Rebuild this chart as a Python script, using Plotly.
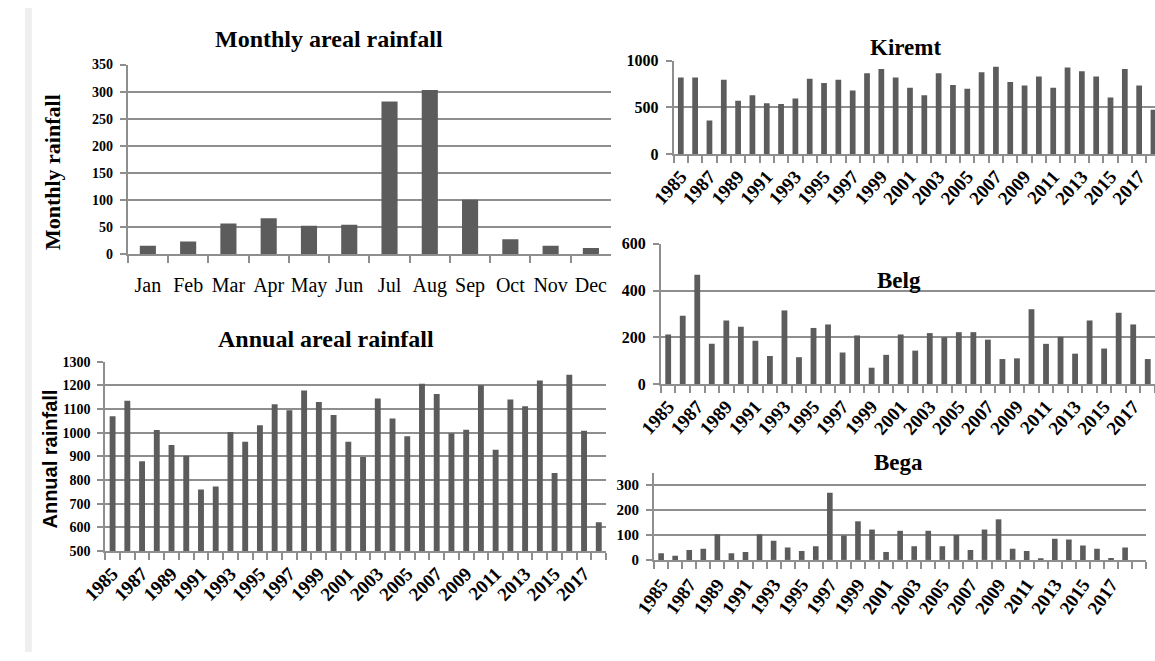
import plotly.graph_objects as go

# ---- data -------------------------------------------------------------
months = ["Jan", "Feb", "Mar", "Apr", "May", "Jun",
          "Jul", "Aug", "Sep", "Oct", "Nov", "Dec"]
monthly_rain = [16, 24, 57, 67, 53, 55, 282, 303, 101, 28, 16, 12]

years = [1985, 1986, 1987, 1988, 1989, 1990, 1991, 1992, 1993, 1994,
         1995, 1996, 1997, 1998, 1999, 2000, 2001, 2002, 2003, 2004,
         2005, 2006, 2007, 2008, 2009, 2010, 2011, 2012, 2013, 2014,
         2015, 2016, 2017, 2018]

annual_rain = [1070, 1135, 880, 1012, 948, 903, 760, 773, 1003, 962,
               1032, 1120, 1095, 1178, 1130, 1075, 962, 897, 1145, 1060,
               985, 1207, 1163, 998, 1013, 1200, 928, 1140, 1112, 1220,
               830, 1245, 1008, 622]

kiremt_rain = [820, 820, 360, 795, 570, 630, 545, 535, 595, 805,
               760, 795, 680, 865, 910, 820, 710, 630, 865, 740,
               700, 875, 935, 770, 735, 830, 710, 925, 885, 830,
               605, 910, 735, 475]

belg_rain = [212, 292, 468, 172, 272, 245, 185, 120, 315, 115,
             240, 255, 135, 208, 70, 125, 212, 143, 218, 200,
             222, 222, 190, 107, 110, 320, 172, 202, 130, 272,
             152, 305, 255, 107]

bega_rain = [27, 17, 40, 45, 103, 27, 32, 103, 77, 50,
             36, 55, 270, 98, 155, 122, 32, 117, 55, 117,
             55, 100, 40, 122, 163, 45, 36, 7, 85, 82,
             58, 45, 8, 50]

year_ticks = years[::2]
year_labels = [str(y) for y in year_ticks]

# ---- styling ----------------------------------------------------------
W, H = 1155, 661
BAR = "#5c5c5c"
GRID = "#8e8e8e"
SERIF = "Liberation Serif"
SANS = "Liberation Sans"


def xdom(x0, x1):
    return [x0 / W, min(x1 / W, 1.0)]


def ydom(top, bottom):
    return [1 - bottom / H, 1 - top / H]


def value_axis(top, bottom, rng, dtick, size, tickvals=None):
    ax = dict(
        domain=ydom(top, bottom), range=rng, dtick=dtick,
        showgrid=True, gridcolor=GRID, gridwidth=2,
        showline=True, linecolor=GRID, linewidth=2,
        ticks="outside", ticklen=6, tickcolor=GRID, tickwidth=2,
        zeroline=False, fixedrange=True,
        tickfont=dict(family=SERIF, size=size, color="black", weight="bold"),
        ticklabelstandoff=4,
    )
    if tickvals is not None:
        ax["tickmode"] = "array"
        ax["tickvals"] = tickvals
    return ax


def year_axis(x0, x1, rng, size, angle, standoff):
    return dict(
        domain=xdom(x0, x1), range=rng,
        tickmode="array", tickvals=year_ticks, ticktext=year_labels,
        ticks="", tickangle=angle,
        tickfont=dict(family=SERIF, size=size, color="black", weight="bold"),
        ticklabelstandoff=standoff,
        showline=True, linecolor=GRID, linewidth=2,
        showgrid=False, zeroline=False, fixedrange=True,
        minor=dict(tick0=1984.5, dtick=1, ticks="outside", ticklen=7,
                   tickcolor=GRID, tickwidth=2, showgrid=False),
    )


fig = go.Figure()

fig.add_trace(go.Bar(x=months, y=monthly_rain, width=0.4,
                     marker=dict(color=BAR, line=dict(width=0)),
                     xaxis="x", yaxis="y"))
fig.add_trace(go.Bar(x=years, y=annual_rain, width=0.4,
                     marker=dict(color=BAR, line=dict(width=0)),
                     xaxis="x2", yaxis="y2"))
fig.add_trace(go.Bar(x=years, y=kiremt_rain, width=0.4,
                     marker=dict(color=BAR, line=dict(width=0)),
                     xaxis="x3", yaxis="y3"))
fig.add_trace(go.Bar(x=years, y=belg_rain, width=0.4,
                     marker=dict(color=BAR, line=dict(width=0)),
                     xaxis="x4", yaxis="y4"))
fig.add_trace(go.Bar(x=years, y=bega_rain, width=0.4,
                     marker=dict(color=BAR, line=dict(width=0)),
                     xaxis="x5", yaxis="y5"))

# kiremt axis runs past the right edge of the page
kiremt_step = 14.64
kiremt_end = 1984.5 + (W - 663) / kiremt_step

fig.update_layout(
    width=W, height=H,
    margin=dict(l=0, r=0, t=0, b=0),
    paper_bgcolor="white", plot_bgcolor="white",
    showlegend=False,
    xaxis=dict(
        domain=xdom(105, 599), anchor="y", type="category",
        tickson="boundaries", ticks="outside", ticklen=7,
        tickcolor=GRID, tickwidth=2, tickangle=0,
        showline=True, linecolor=GRID, linewidth=2,
        showgrid=False, fixedrange=True,
        tickfont=dict(family=SERIF, size=20, color="black"),
        ticklabelstandoff=12,
    ),
    yaxis=dict(anchor="x", **value_axis(58, 253, [0, 350], 50, 14)),
    xaxis2=dict(anchor="y2", **year_axis(82, 594, [1984.5, 2018.5], 19, -45, 2)),
    yaxis2=dict(anchor="x2", **value_axis(363, 557.5, [500, 1300], 100, 14)),
    xaxis3=dict(anchor="y3", **year_axis(663, W, [1984.5, kiremt_end], 19, -48, 2)),
    yaxis3=dict(anchor="x3", **value_axis(54, 150, [0, 1000], 500, 16)),
    xaxis4=dict(anchor="y4", **year_axis(650, W, [1984.5, 2018.5], 19, -48, 2)),
    yaxis4=dict(anchor="x4", **value_axis(242, 386, [0, 600], 200, 16)),
    xaxis5=dict(anchor="y5", **year_axis(643, 1146, [1984.5, 2019.5], 19, -55, 4)),
    yaxis5=dict(anchor="x5", **value_axis(477, 566.5, [0, 350], 100, 15,
                                          tickvals=[0, 100, 200, 300])),
)

# light frame strip along the left edge
fig.add_shape(type="rect", xref="paper", yref="paper",
              x0=0, x1=7 / W, y0=0, y1=1,
              fillcolor="#efefef", line=dict(width=0), layer="below")


def label(text, x, y, size, family=SERIF, angle=0):
    fig.add_annotation(text=text, xref="paper", yref="paper",
                       x=x / W, y=1 - y / H, showarrow=False,
                       xanchor="center", yanchor="middle", textangle=angle,
                       font=dict(family=family, size=size, color="black",
                                 weight="bold"))


label("Monthly areal rainfall", 311, 32, 24)
label("Annual areal rainfall", 308, 340, 24)
label("Kiremt", 900, 41, 23)
label("Belg", 893, 280, 23)
label("Bega", 893, 467, 23)
label("Monthly rainfall", 28, 168, 22, angle=-90)
label("Annual rainfall", 26, 463, 20, family=SANS, angle=-90)

fig.write_html("out.html",
               post_script="document.body.style.margin='0';")
